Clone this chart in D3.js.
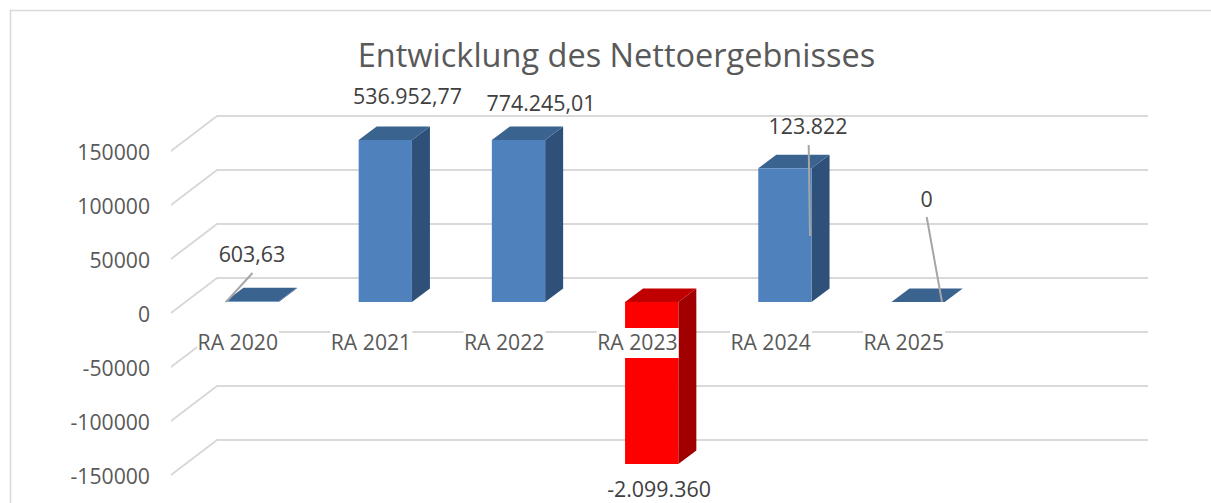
<!DOCTYPE html>
<html>
<head>
<meta charset="utf-8">
<script src="https://cdn.jsdelivr.net/npm/d3@7"></script>
<style>
html, body { margin: 0; padding: 0; background: #fff; }
svg { display: block; }
text { font-family: "Open Sans", sans-serif; }
</style>
</head>
<body>
<script>
const WIDTH = 1211;
const HEIGHT = 503;

const categories = ['RA 2020', 'RA 2021', 'RA 2022', 'RA 2023', 'RA 2024', 'RA 2025'];
const values = [603.63, 536952.77, 774245.01, -2099360, 123822, 0];
const valueLabels = ['603,63', '536.952,77', '774.245,01', '-2.099.360', '123.822', '0'];
const yTicks = [-150000, -100000, -50000, 0, 50000, 100000, 150000];
const yTickLabels = ['-150000', '-100000', '-50000', '0', '50000', '100000', '150000'];

// 3d look of the plot
const DEPTH_X = 18;
const DEPTH_Y = 13.5;
const FLOOR_X = 46;   // gridline run from front to back wall
const FLOOR_Y = 35;
const FRONT_LEFT = 171;
const BACK_RIGHT = 1148;

// label spots picked by hand in the original, some with a leader line
const labelSpots = [
	{x: 252, y: 255, leader: [[252.5, 273], [226, 302]]},
	{x: 407.5, y: 97},
	{x: 541, y: 104},
	{x: 659, y: 490},
	{x: 808, y: 127, leader: [[808.7, 145], [810, 236]]},
	{x: 926.5, y: 200, leader: [[926.7, 217], [942, 302]]}
];

const drawChart = function(){
	const svg = d3.select('body')
		.append('svg')
		.attr('width', WIDTH)
		.attr('height', HEIGHT);

	// outer frame, the right and bottom sides are cut off in the screenshot
	svg.append('path')
		.attr('d', 'M10.5,' + HEIGHT + 'V10.5H' + WIDTH)
		.attr('fill', 'none')
		.attr('stroke', '#d9d9d9')
		.attr('stroke-width', 1.5);

	svg.append('text')
		.attr('x', 616.5)
		.attr('y', 56)
		.attr('dy', '0.35em')
		.attr('text-anchor', 'middle')
		.attr('font-size', 32.5)
		.attr('fill', '#595959')
		.text('Entwicklung des Nettoergebnisses');

	const yScale = d3.scaleLinear().domain([-150000, 150000]).range([464, 140]).clamp(true);
	const step = 133.2;
	const xScale = d3.scaleBand()
		.domain(categories)
		.range([185.5, 185.5 + step * categories.length])
		.paddingInner(0.6)
		.paddingOuter(0.3);

	// gridlines: floor diagonal then along the back wall
	svg.append('g')
		.selectAll('path')
		.data(yTicks)
		.enter()
		.append('path')
		.attr('d', function(d){
			const y = yScale(d) + 11;
			return 'M' + FRONT_LEFT + ',' + y + 'L' + (FRONT_LEFT + FLOOR_X) + ',' + (y - FLOOR_Y) + 'H' + BACK_RIGHT;
		})
		.attr('fill', 'none')
		.attr('stroke', '#d9d9d9')
		.attr('stroke-width', 2);

	const yAxis = d3.axisLeft(yScale)
		.tickValues(yTicks)
		.tickSize(0)
		.tickPadding(0)
		.tickFormat(function(d, i){ return yTickLabels[i]; });
	const yGroup = svg.append('g')
		.attr('transform', 'translate(150,13)')
		.call(yAxis);
	yGroup.select('.domain').remove();
	yGroup.selectAll('text')
		.style('font-family', '"Open Sans", sans-serif')
		.attr('font-size', 21.2)
		.attr('fill', '#595959');

	const bars = svg.append('g')
		.selectAll('g')
		.data(values)
		.enter()
		.append('g');

	const barX = function(d, i){ return xScale(categories[i]); };
	const bw = xScale.bandwidth();
	const barTop = function(d){ return yScale(Math.max(d, 0)); };
	const barBottom = function(d){ return yScale(Math.min(d, 0)); };

	// side face
	bars.append('path')
		.attr('d', function(d, i){
			const x = barX(d, i) + bw;
			return 'M' + x + ',' + barTop(d) + 'l' + DEPTH_X + ',' + (-DEPTH_Y) +
				'V' + (barBottom(d) - DEPTH_Y) + 'L' + x + ',' + barBottom(d) + 'Z';
		})
		.attr('fill', function(d){ return d < 0 ? '#a00000' : '#2f5179'; });

	// top face
	bars.append('path')
		.attr('d', function(d, i){
			const x = barX(d, i);
			return 'M' + x + ',' + barTop(d) + 'l' + DEPTH_X + ',' + (-DEPTH_Y) +
				'h' + bw + 'l' + (-DEPTH_X) + ',' + DEPTH_Y + 'Z';
		})
		.attr('fill', function(d){ return d < 0 ? '#c00000' : '#3b6390'; });

	// front face
	bars.append('rect')
		.attr('x', barX)
		.attr('y', barTop)
		.attr('width', bw)
		.attr('height', function(d){ return barBottom(d) - barTop(d); })
		.attr('fill', function(d){ return d < 0 ? '#ff0000' : '#4f81bd'; });

	// category labels sit on white boxes that hide gridlines and bars
	const catLabels = svg.append('g')
		.selectAll('g')
		.data(categories)
		.enter()
		.append('g')
		.attr('transform', function(d){
			return 'translate(' + (xScale(d) + bw / 2 - 13.5) + ',343)';
		});

	catLabels.append('rect')
		.attr('x', -41.5)
		.attr('y', -15)
		.attr('width', 82)
		.attr('height', 30)
		.attr('fill', '#fff');

	catLabels.append('text')
		.attr('x', -0.8)
		.attr('dy', '0.35em')
		.attr('text-anchor', 'middle')
		.attr('font-size', 21.2)
		.attr('fill', '#595959')
		.text(function(d){ return d; });

	const line = d3.line();
	svg.append('g')
		.selectAll('path')
		.data(labelSpots.filter(function(d){ return d.leader; }))
		.enter()
		.append('path')
		.attr('d', function(d){ return line(d.leader); })
		.attr('fill', 'none')
		.attr('stroke', '#a6a6a6')
		.attr('stroke-width', 2);

	svg.append('g')
		.selectAll('text')
		.data(valueLabels)
		.enter()
		.append('text')
		.attr('x', function(d, i){ return labelSpots[i].x; })
		.attr('y', function(d, i){ return labelSpots[i].y; })
		.attr('dy', '0.35em')
		.attr('text-anchor', 'middle')
		.attr('font-size', 21.4)
		.attr('fill', '#404040')
		.text(function(d){ return d; });
};

window.onload = function(){
	drawChart();
};
</script>
</body>
</html>
